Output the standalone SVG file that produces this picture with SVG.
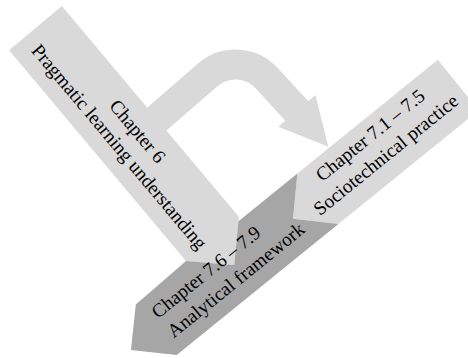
<svg xmlns="http://www.w3.org/2000/svg" width="468" height="358" viewBox="0 0 468 358">
  <style>
    .light { fill: #d9d9d9; }
    .dark { fill: #a6a6a6; }
    .lbl { font-family: "Liberation Serif", "Times New Roman", serif; font-size: 19.33px; fill: #000; }
    .mid { text-anchor: middle; }
    .shaft { fill: none; stroke: #d9d9d9; stroke-width: 30; stroke-linecap: butt; stroke-linejoin: round; }
  </style>
  <rect width="468" height="358" fill="#fff"/>
  <g id="connectors">
    <path class="shaft" d="M150,125 L207.6,75 A42.5,42.5 0 0 1 267.6,79.2 L300,114.5"/>
    <polygon class="light" points="278.3,126.7 315.5,95 328.3,146.7"/>
  </g>
  <g id="node-pragmatic">
    <polygon class="light" points="9.1,50.2 61.9,5.9 238.8,216.7 234.2,264.9 186,261"/>
    <g transform="translate(128.5,138.9) rotate(50)">
      <text class="lbl mid" x="0" y="-5.5">Chapter 6</text>
      <text class="lbl mid" x="0" y="18.5">Pragmatic learning understanding</text>
    </g>
  </g>
  <g id="node-sociotechnical">
    <polygon class="light" points="293,218.8 297.4,173.5 437.8,59.8 478.7,110.3 338.4,224"/>
    <g transform="translate(380.5,148) rotate(-39)">
      <text class="lbl mid" x="0" y="-10">Chapter 7.1 – 7.5</text>
      <text class="lbl mid" x="0" y="15">Sociotechnical practice</text>
    </g>
  </g>
  <g id="node-analytical">
    <polygon class="dark" points="131,350 135.8,304.4 186,261 234.2,264.9 238.4,221.3 297.4,173.5 293,218.8 338.4,224 176.7,354.9"/>
    <g transform="translate(162.5,324.6) rotate(-39)">
      <text class="lbl" x="0" y="-7">Chapter 7.6 – 7.9</text>
      <text class="lbl" x="0" y="18">Analytical framework</text>
    </g>
  </g>
</svg>
